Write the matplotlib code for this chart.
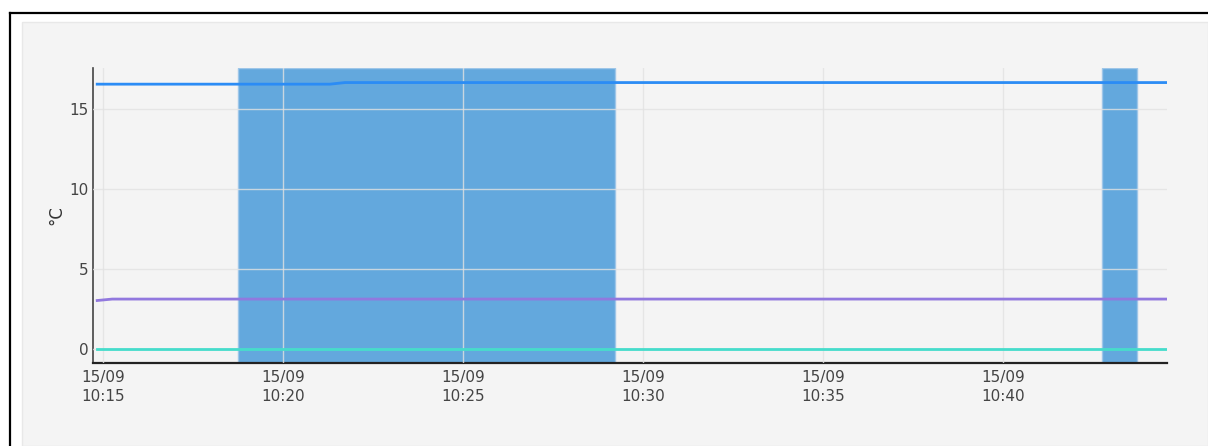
import matplotlib
matplotlib.use("Agg")
import matplotlib.pyplot as plt
import matplotlib.dates as mdates
from matplotlib.patches import Rectangle
from matplotlib.lines import Line2D
import pandas as pd

# Data
day = "2023-09-15 "
blue_times = ["10:14:50", "10:21:18", "10:21:43", "10:44:33"]
blue_vals = [16.55, 16.55, 16.65, 16.65]
purple_times = ["10:14:50", "10:15:15", "10:44:33"]
purple_vals = [3.03, 3.12, 3.12]
teal_times = ["10:14:50", "10:44:33"]
teal_vals = [0.0, 0.0]
band_starts = ["10:18:45", "10:42:45"]
band_ends = ["10:29:13", "10:43:43"]

W, H = 1208, 446
fig = plt.figure(figsize=(W / 100, H / 100), dpi=100, facecolor="white")

# screenshot frame + panel
def fx(px):
    return px / W

def fy(py):
    return 1 - py / H

fig.add_artist(Rectangle((fx(22), 0), 1 - fx(22), fy(22), transform=fig.transFigure,
                         facecolor="#f4f4f4", edgecolor="#e8e8e8", lw=1, zorder=0))
fig.add_artist(Line2D([fx(10), fx(10)], [0, fy(13)], transform=fig.transFigure, color="black", lw=1.6))
fig.add_artist(Line2D([fx(10), 1], [fy(13), fy(13)], transform=fig.transFigure, color="black", lw=1.6))

ax = fig.add_axes([fx(93), fy(363), fx(1167) - fx(93), fy(68) - fy(363)])
ax.set_facecolor("none")

t = lambda s: pd.to_datetime(day + s)

for s, e in zip(band_starts, band_ends):
    ax.axvspan(t(s), t(e), facecolor="#63a8dd", edgecolor="#9ec6e8", lw=1, zorder=1)

ax.grid(True, color="#e2e2e2", alpha=0.8, lw=1, zorder=2)
ax.set_axisbelow(False)

ax.plot([t(x) for x in blue_times], blue_vals, color="#2b8cf5", lw=2, zorder=4)
ax.plot([t(x) for x in purple_times], purple_vals, color="#9178de", lw=2, zorder=4)
ax.plot([t(x) for x in teal_times], teal_vals, color="#45dccb", lw=2, zorder=4)

ax.set_xlim(t("10:14:43"), t("10:44:33"))
ax.set_ylim(-0.875, 17.56)
ax.set_yticks([0, 5, 10, 15])
ax.xaxis.set_major_locator(mdates.MinuteLocator(byminute=range(0, 60, 5)))
ax.xaxis.set_major_formatter(mdates.DateFormatter("%d/%m\n%H:%M"))

for sp in ["top", "right"]:
    ax.spines[sp].set_visible(False)
ax.spines["left"].set_color("#444444")
ax.spines["left"].set_linewidth(1.2)
ax.spines["bottom"].set_color("#222222")
ax.spines["bottom"].set_linewidth(1.6)

ax.tick_params(axis="both", length=0, labelsize=11, labelcolor="#444444")
ax.tick_params(axis="x", pad=5)
ax.tick_params(axis="y", pad=3)
for lab in ax.get_xticklabels():
    lab.set_linespacing(1.3)

ax.set_ylabel("°C", fontsize=12, color="#333333", labelpad=3)

fig.savefig("out.png", dpi=100, facecolor="white")
